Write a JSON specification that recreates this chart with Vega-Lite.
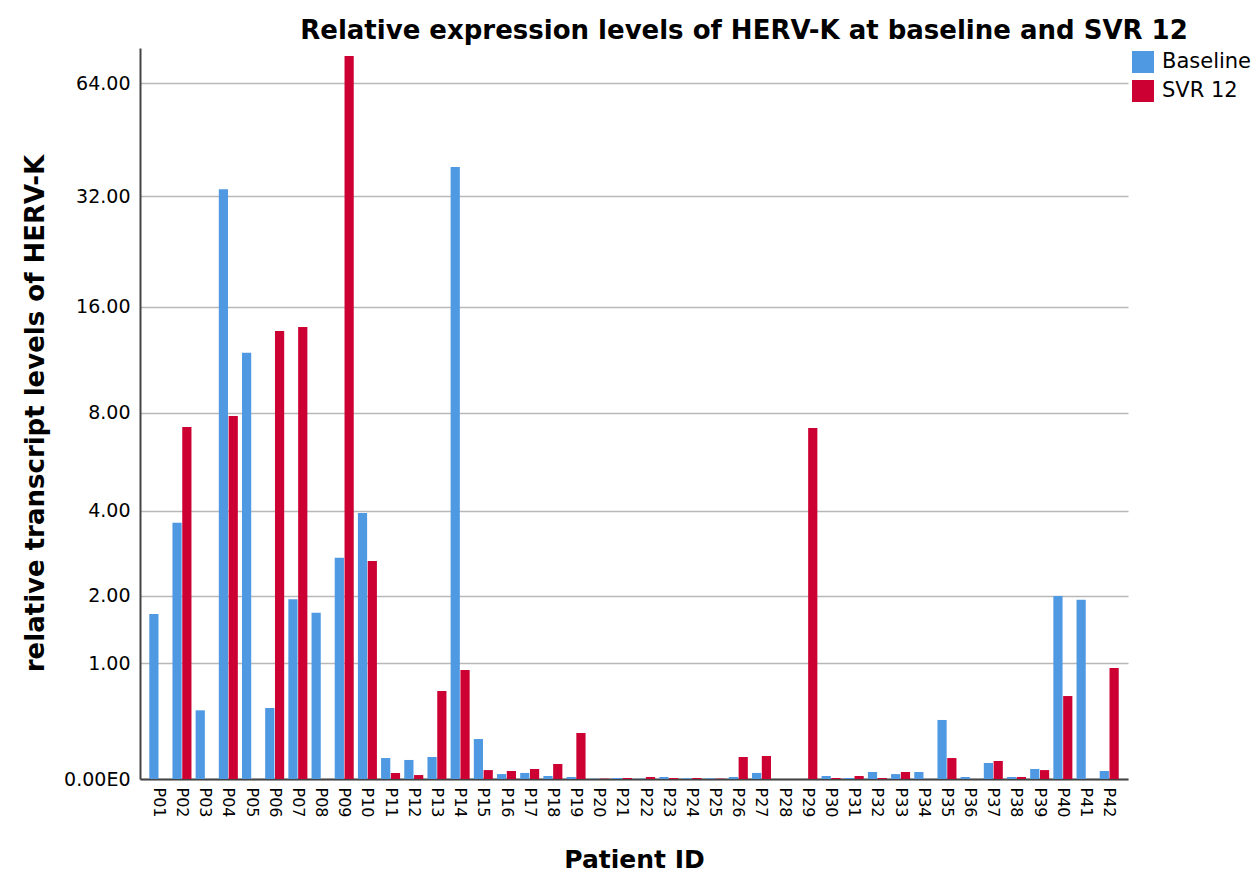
{
  "$schema": "https://vega.github.io/schema/vega-lite/v6.json",
  "width": 988,
  "height": 731,
  "autosize": {"type": "none"},
  "padding": {"left": 140, "top": 48, "right": 127, "bottom": 95},
  "background": "white",
  "title": {
    "text": "Relative expression levels of HERV-K at baseline and SVR 12",
    "font": "DejaVu Sans",
    "fontSize": 26,
    "fontWeight": "bold",
    "color": "black",
    "anchor": "middle",
    "dx": 110,
    "offset": 4
  },
  "config": {
    "view": {"stroke": null},
    "font": "DejaVu Sans"
  },
  "data": {
    "values": [
      {"patient": "P01", "series": "Baseline", "value": 1.69},
      {"patient": "P01", "series": "SVR 12", "value": 0},
      {"patient": "P02", "series": "Baseline", "value": 3.65},
      {"patient": "P02", "series": "SVR 12", "value": 7.26},
      {"patient": "P03", "series": "Baseline", "value": 0.51},
      {"patient": "P03", "series": "SVR 12", "value": 0},
      {"patient": "P04", "series": "Baseline", "value": 33.4},
      {"patient": "P04", "series": "SVR 12", "value": 7.83},
      {"patient": "P05", "series": "Baseline", "value": 11.9},
      {"patient": "P05", "series": "SVR 12", "value": 0},
      {"patient": "P06", "series": "Baseline", "value": 0.53},
      {"patient": "P06", "series": "SVR 12", "value": 13.7},
      {"patient": "P07", "series": "Baseline", "value": 1.94},
      {"patient": "P07", "series": "SVR 12", "value": 14.05},
      {"patient": "P08", "series": "Baseline", "value": 1.71},
      {"patient": "P08", "series": "SVR 12", "value": 0},
      {"patient": "P09", "series": "Baseline", "value": 2.77},
      {"patient": "P09", "series": "SVR 12", "value": 75.5},
      {"patient": "P10", "series": "Baseline", "value": 3.93},
      {"patient": "P10", "series": "SVR 12", "value": 2.7},
      {"patient": "P11", "series": "Baseline", "value": 0.134},
      {"patient": "P11", "series": "SVR 12", "value": 0.037},
      {"patient": "P12", "series": "Baseline", "value": 0.121},
      {"patient": "P12", "series": "SVR 12", "value": 0.024},
      {"patient": "P13", "series": "Baseline", "value": 0.141},
      {"patient": "P13", "series": "SVR 12", "value": 0.695},
      {"patient": "P14", "series": "Baseline", "value": 38.3},
      {"patient": "P14", "series": "SVR 12", "value": 0.923},
      {"patient": "P15", "series": "Baseline", "value": 0.271},
      {"patient": "P15", "series": "SVR 12", "value": 0.055},
      {"patient": "P16", "series": "Baseline", "value": 0.03},
      {"patient": "P16", "series": "SVR 12", "value": 0.049},
      {"patient": "P17", "series": "Baseline", "value": 0.037},
      {"patient": "P17", "series": "SVR 12", "value": 0.062},
      {"patient": "P18", "series": "Baseline", "value": 0.018},
      {"patient": "P18", "series": "SVR 12", "value": 0.094},
      {"patient": "P19", "series": "Baseline", "value": 0.012},
      {"patient": "P19", "series": "SVR 12", "value": 0.318},
      {"patient": "P20", "series": "Baseline", "value": 0.002},
      {"patient": "P20", "series": "SVR 12", "value": 0.002},
      {"patient": "P21", "series": "Baseline", "value": 0.006},
      {"patient": "P21", "series": "SVR 12", "value": 0.006},
      {"patient": "P22", "series": "Baseline", "value": 0.002},
      {"patient": "P22", "series": "SVR 12", "value": 0.012},
      {"patient": "P23", "series": "Baseline", "value": 0.012},
      {"patient": "P23", "series": "SVR 12", "value": 0.006},
      {"patient": "P24", "series": "Baseline", "value": 0.004},
      {"patient": "P24", "series": "SVR 12", "value": 0.006},
      {"patient": "P25", "series": "Baseline", "value": 0.004},
      {"patient": "P25", "series": "SVR 12", "value": 0.002},
      {"patient": "P26", "series": "Baseline", "value": 0.012},
      {"patient": "P26", "series": "SVR 12", "value": 0.141},
      {"patient": "P27", "series": "Baseline", "value": 0.037},
      {"patient": "P27", "series": "SVR 12", "value": 0.148},
      {"patient": "P28", "series": "Baseline", "value": 0},
      {"patient": "P28", "series": "SVR 12", "value": 0},
      {"patient": "P29", "series": "Baseline", "value": 0},
      {"patient": "P29", "series": "SVR 12", "value": 7.21},
      {"patient": "P30", "series": "Baseline", "value": 0.018},
      {"patient": "P30", "series": "SVR 12", "value": 0.006},
      {"patient": "P31", "series": "Baseline", "value": 0.006},
      {"patient": "P31", "series": "SVR 12", "value": 0.018},
      {"patient": "P32", "series": "Baseline", "value": 0.043},
      {"patient": "P32", "series": "SVR 12", "value": 0.006},
      {"patient": "P33", "series": "Baseline", "value": 0.03},
      {"patient": "P33", "series": "SVR 12", "value": 0.043},
      {"patient": "P34", "series": "Baseline", "value": 0.043},
      {"patient": "P34", "series": "SVR 12", "value": 0},
      {"patient": "P35", "series": "Baseline", "value": 0.425},
      {"patient": "P35", "series": "SVR 12", "value": 0.134},
      {"patient": "P36", "series": "Baseline", "value": 0.012},
      {"patient": "P36", "series": "SVR 12", "value": 0},
      {"patient": "P37", "series": "Baseline", "value": 0.101},
      {"patient": "P37", "series": "SVR 12", "value": 0.114},
      {"patient": "P38", "series": "Baseline", "value": 0.012},
      {"patient": "P38", "series": "SVR 12", "value": 0.012},
      {"patient": "P39", "series": "Baseline", "value": 0.062},
      {"patient": "P39", "series": "SVR 12", "value": 0.055},
      {"patient": "P40", "series": "Baseline", "value": 2.0},
      {"patient": "P40", "series": "SVR 12", "value": 0.645},
      {"patient": "P41", "series": "Baseline", "value": 1.93},
      {"patient": "P41", "series": "SVR 12", "value": 0},
      {"patient": "P42", "series": "Baseline", "value": 0.049},
      {"patient": "P42", "series": "SVR 12", "value": 0.946}
    ]
  },
  "mark": {"type": "bar"},
  "encoding": {
    "x": {
      "field": "patient",
      "type": "nominal",
      "sort": null,
      "scale": {"paddingInner": 0.18, "paddingOuter": 0.4},
      "axis": {
        "title": "Patient ID",
        "titleFont": "DejaVu Sans",
        "titleFontSize": 25,
        "titleFontWeight": "bold",
        "titleColor": "black",
        "titleBaseline": "alphabetic",
        "titleY": 88,
        "labelAngle": 90,
        "labelFontSize": 16,
        "labelColor": "black",
        "labelPadding": 8,
        "ticks": false,
        "domainColor": "#444444",
        "domainWidth": 2,
        "grid": false
      }
    },
    "xOffset": {
      "field": "series",
      "type": "nominal",
      "scale": {"domain": ["Baseline", "SVR 12"], "paddingInner": 0.06}
    },
    "y": {
      "field": "value",
      "type": "quantitative",
      "scale": {"type": "symlog", "domain": [0, 79.3], "nice": false, "zero": true},
      "axis": {
        "title": "relative transcript levels of HERV-K",
        "titleFont": "DejaVu Sans",
        "titleFontSize": 26,
        "titleFontWeight": "bold",
        "titleColor": "black",
        "titleAngle": -90,
        "titleAlign": "center",
        "titleBaseline": "middle",
        "titleX": -105,
        "titleY": 365,
        "values": [0, 1, 2, 4, 8, 16, 32, 64],
        "labelExpr": "datum.value == 0 ? '0.00E0' : format(datum.value, '.2f')",
        "labelFontSize": 19,
        "labelColor": "black",
        "labelPadding": 10,
        "ticks": false,
        "grid": true,
        "gridColor": "#b8b8b8",
        "gridWidth": 1.5,
        "domainColor": "#444444",
        "domainWidth": 2
      }
    },
    "color": {
      "field": "series",
      "type": "nominal",
      "scale": {"domain": ["Baseline", "SVR 12"], "range": ["#4f99e3", "#cc0033"]},
      "legend": {
        "title": null,
        "orient": "none",
        "legendX": 992,
        "legendY": 3,
        "symbolType": "square",
        "symbolSize": 484,
        "symbolStrokeWidth": 0,
        "symbolOpacity": 1,
        "labelFontSize": 21,
        "labelColor": "black",
        "labelOffset": 8,
        "rowPadding": 7,
        "padding": 0
      }
    }
  }
}
